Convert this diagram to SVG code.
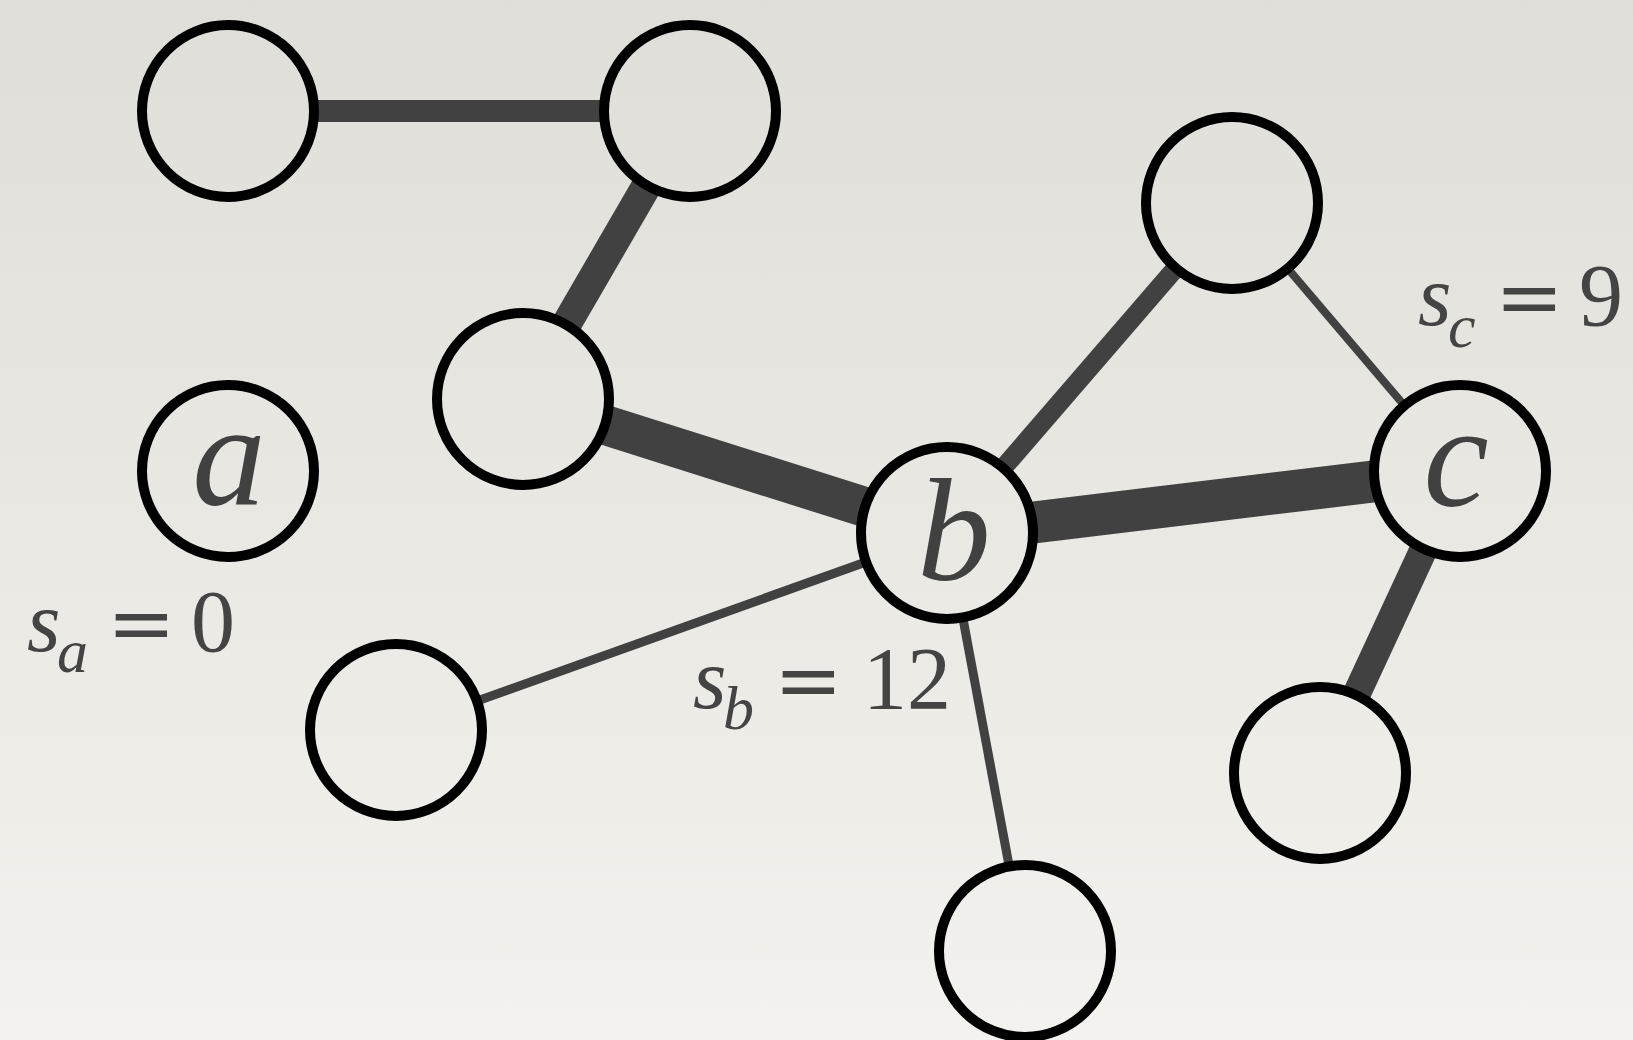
<svg xmlns="http://www.w3.org/2000/svg" width="1633" height="1040" viewBox="0 0 1633 1040">
  <defs>
    <linearGradient id="bg" gradientUnits="userSpaceOnUse" x1="0" y1="0" x2="0" y2="1040">
      <stop offset="0" stop-color="#dfded9"/>
      <stop offset="1" stop-color="#f3f2ee"/>
    </linearGradient>
  </defs>
  <style>
    .node { fill: url(#bg); stroke: #000; stroke-width: 10; }
    .edge { stroke: #414141; stroke-linecap: butt; fill: none; }
    .lbl { font-family: "Liberation Serif", "Times New Roman", serif; font-style: italic; font-size: 147px; fill: #414141; text-anchor: middle; }
    .math { font-family: "Liberation Serif", "Times New Roman", serif; fill: #444; }
    .v { font-style: italic; font-size: 86px; }
    .sub { font-style: italic; font-size: 62px; }
    .num { font-size: 88px; }
    .eq { font-family: "DejaVu Serif", serif; font-size: 82px; }
  </style>
  <rect width="1633" height="1040" fill="url(#bg)"/>
  <g id="edges">
    <line class="edge" x1="228" y1="111" x2="690" y2="111" stroke-width="22"/>
    <line class="edge" x1="690" y1="111" x2="523" y2="399" stroke-width="30"/>
    <line class="edge" x1="523" y1="399" x2="947" y2="533" stroke-width="40"/>
    <line class="edge" x1="947" y1="533" x2="396" y2="730" stroke-width="9"/>
    <line class="edge" x1="947" y1="533" x2="1232" y2="203" stroke-width="19"/>
    <line class="edge" x1="1232" y1="203" x2="1460" y2="471" stroke-width="8"/>
    <line class="edge" x1="947" y1="533" x2="1460" y2="471" stroke-width="42"/>
    <line class="edge" x1="1460" y1="471" x2="1320" y2="773" stroke-width="28"/>
    <line class="edge" x1="947" y1="533" x2="1025" y2="951" stroke-width="9"/>
  </g>
  <g id="node1"><circle class="node" cx="228" cy="111" r="86"/></g>
  <g id="node2"><circle class="node" cx="690" cy="111" r="86"/></g>
  <g id="node3"><circle class="node" cx="523" cy="399" r="86"/></g>
  <g id="node-a"><circle class="node" cx="228" cy="471" r="86"/><text class="lbl" x="229" y="505">a</text></g>
  <g id="node5"><circle class="node" cx="396" cy="730" r="86"/></g>
  <g id="node-b"><circle class="node" cx="947" cy="533" r="86"/><text class="lbl" x="954" y="580">b</text></g>
  <g id="node7"><circle class="node" cx="1232" cy="203" r="86"/></g>
  <g id="node-c"><circle class="node" cx="1460" cy="471" r="86"/><text class="lbl" x="1456" y="506">c</text></g>
  <g id="node9"><circle class="node" cx="1320" cy="773" r="86"/></g>
  <g id="node10"><circle class="node" cx="1025" cy="951" r="86"/></g>
  <g id="labels">
    <text class="math"><tspan class="v" x="27" y="651">s</tspan><tspan class="sub" x="57" y="672">a</tspan><tspan class="eq" x="107" y="651">=</tspan><tspan class="num" x="191" y="651">0</tspan></text>
    <text class="math"><tspan class="v" x="693" y="708">s</tspan><tspan class="sub" x="723" y="729">b</tspan><tspan class="eq" x="774" y="708">=</tspan><tspan class="num" x="863" y="708">12</tspan></text>
    <text class="math"><tspan class="v" x="1418" y="325">s</tspan><tspan class="sub" x="1448" y="347">c</tspan><tspan class="eq" x="1495" y="325">=</tspan><tspan class="num" x="1579" y="325">9</tspan></text>
  </g>
</svg>
